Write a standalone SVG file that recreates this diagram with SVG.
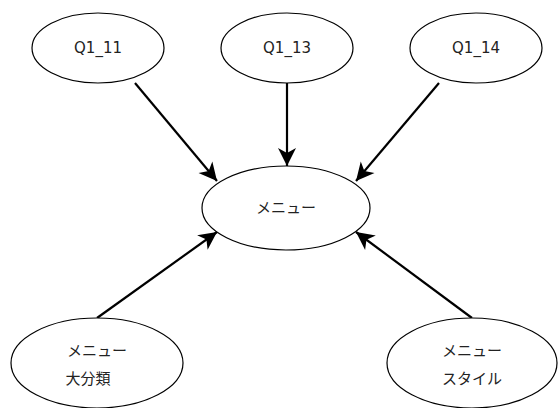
<svg xmlns="http://www.w3.org/2000/svg" width="558" height="408" viewBox="0 0 558 408">
<style>
.n{fill:#fff;stroke:#000;stroke-width:1.2}
.t{font-family:"DejaVu Sans","Noto Sans CJK JP",sans-serif;font-size:15px;fill:#222;text-anchor:middle}
.e{stroke:#000;stroke-width:2.2;fill:none;marker-end:url(#a)}
</style>
<defs>
<marker id="a" viewBox="-20 -10 22 20" refX="0" refY="0" markerWidth="22" markerHeight="20" markerUnits="userSpaceOnUse" orient="auto" overflow="visible">
<path d="M0,0 L-18,-9 L-13,0 L-18,9 Z" fill="#000"/>
</marker>
</defs>
<rect width="558" height="408" fill="#fff"/>
<g id="edges">
<line class="e" x1="135" y1="83" x2="217" y2="181"/>
<line class="e" x1="287" y1="83" x2="287" y2="166"/>
<line class="e" x1="439" y1="83" x2="356" y2="181"/>
<line class="e" x1="97" y1="318" x2="217" y2="232"/>
<line class="e" x1="472" y1="318" x2="356" y2="232"/>
</g>
<g id="q1_11"><ellipse class="n" cx="98" cy="48" rx="66" ry="35"/><text class="t" x="98" y="53">Q1_11</text></g>
<g id="q1_13"><ellipse class="n" cx="287" cy="48" rx="66" ry="35"/><text class="t" x="287" y="53">Q1_13</text></g>
<g id="q1_14"><ellipse class="n" cx="476" cy="48" rx="66" ry="35"/><text class="t" x="476" y="53">Q1_14</text></g>
<g id="menu"><ellipse class="n" cx="286" cy="208" rx="84" ry="42"/><text class="t" x="286" y="213">メニュー</text></g>
<g id="menu_daibunrui"><ellipse class="n" cx="97" cy="363" rx="86" ry="45"/><text class="t" x="97" y="356">メニュー</text><text class="t" x="88" y="384">大分類</text></g>
<g id="menu_style"><ellipse class="n" cx="472" cy="363" rx="85" ry="45"/><text class="t" x="472" y="356">メニュー</text><text class="t" x="472" y="384">スタイル</text></g>
</svg>
